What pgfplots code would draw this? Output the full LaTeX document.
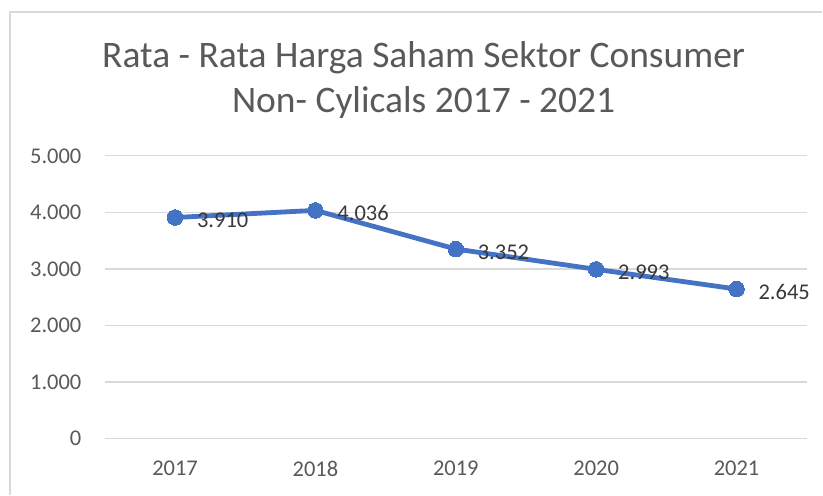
\documentclass[border=0pt]{standalone}
\usepackage{pgfplots}
\pgfplotsset{compat=1.18}
\usepackage{fontspec}
\setmainfont{Carlito}
\definecolor{linecol}{HTML}{4472C4}
\definecolor{txtgray}{HTML}{595959}
\definecolor{gridgray}{HTML}{D9D9D9}

\begin{document}
\begin{tikzpicture}
\begin{axis}[
  scale only axis,
  width=702.5pt, height=283pt,
  xmin=-0.5, xmax=4.5,
  ymin=0, ymax=5000,
  xtick={0,1,2,3,4},
  xticklabels={2017,2018,2019,2020,2021},
  ytick={0,1000,2000,3000,4000,5000},
  axis line style={draw=none},
  major tick length=0pt,
  ymajorgrids,
  grid style={gridgray, line width=1.2pt},
  tick label style={font=\fontsize{22.5}{26}\selectfont, text=txtgray},
  /pgf/number format/assume math mode=true,
  /pgf/number format/1000 sep={.},
  yticklabel style={anchor=east, xshift=-20pt},
  xticklabel style={anchor=north, yshift=-19pt},
  clip=false,
]
\addplot[linecol, line width=4.8pt, mark=*, mark size=7.8pt,
  mark options={fill=linecol, draw=linecol, line width=0pt},
  nodes near coords,
  every node near coord/.append style={anchor=west, inner sep=0pt, xshift=22pt, yshift=-3pt,
    font=\fontsize{22.5}{26}\selectfont, text=black!78,
    /pgf/number format/1000 sep={.}}]
coordinates {(0,3910) (1,4036) (2,3352) (3,2993) (4,2645)};
\end{axis}
\node[align=center, text=txtgray, font=\fontsize{37.5}{45}\selectfont] at (319pt,359pt)
  {Rata - Rata Harga Saham Sektor Consumer\\Non- Cylicals 2017 - 2021};
\draw[gridgray, line width=1.5pt] (-95pt,-56pt) -- (-95pt,427pt) -- (718pt,427pt);
\useasboundingbox (-105pt,-56pt) rectangle (718pt,439pt);
\end{tikzpicture}
\end{document}
